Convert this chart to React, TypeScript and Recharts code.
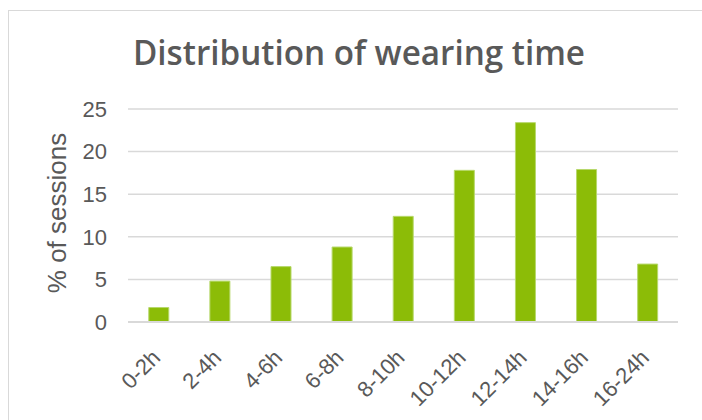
import { BarChart, Bar, XAxis, YAxis, CartesianGrid, Label } from 'recharts';

const CATEGORIES: string[] = ['0-2h', '2-4h', '4-6h', '6-8h', '8-10h', '10-12h', '12-14h', '14-16h', '16-24h'];
const SESSIONS: number[] = [1.7, 4.8, 6.5, 8.8, 12.4, 17.8, 23.4, 17.9, 6.8];
const Y_TICKS: number[] = [0, 5, 10, 15, 20, 25];

const GREY = '#595959';
const GRID = '#d9d9d9';
const BAR_FILL = '#8cbc07';
const BAR_EDGE = '#b7d86c';
const SANS = '"Liberation Sans", Arial, sans-serif';

const data = CATEGORIES.map((cat, i) => ({ cat, value: SESSIONS[i] }));

// rotated category labels, anchored at their end like excel does
function XTick({ x, y, payload }: any) {
    return (
        <g transform={`translate(${x + 3},${y + 29})`}>
            <text
                x={0}
                y={0}
                textAnchor="end"
                transform="rotate(-45)"
                fill={GREY}
                fontSize={22}
                fontFamily={SANS}
            >
                {payload.value}
            </text>
        </g>
    );
}

export default function App() {
    return (
        <div style={{ position: 'absolute', left: 0, top: 0, width: 702, height: 420, background: '#fff', overflow: 'hidden' }}>
            <div style={{ position: 'absolute', left: 8, top: 10, width: 720, height: 440, border: `1px solid ${GRID}` }} />
            <BarChart
                width={702}
                height={420}
                data={data}
                margin={{ top: 109, right: 24, bottom: 0, left: 0 }}
                barCategoryGap="34%"
                style={{ position: 'absolute', left: 0, top: 0 }}
            >
                <text
                    x={359}
                    y={65}
                    textAnchor="middle"
                    fill={GREY}
                    fontSize={35}
                    fontWeight={600}
                    fontFamily='"Open Sans", "Noto Sans", sans-serif'
                    textLength={452}
                    lengthAdjust="spacingAndGlyphs"
                >
                    Distribution of wearing time
                </text>
                <CartesianGrid vertical={false} stroke={GRID} strokeWidth={1.5} />
                <XAxis
                    dataKey="cat"
                    height={98}
                    interval={0}
                    tickLine={false}
                    axisLine={{ stroke: GRID, strokeWidth: 2 }}
                    tick={<XTick />}
                />
                <YAxis
                    width={128}
                    domain={[0, 25]}
                    ticks={Y_TICKS}
                    axisLine={false}
                    tickLine={false}
                    tickSize={0}
                    tickMargin={21}
                    tick={{ fill: GREY, fontSize: 22, fontFamily: SANS }}
                >
                    <Label
                        content={() => (
                            <text
                                x={0}
                                y={0}
                                transform="translate(66,213) rotate(-90)"
                                textAnchor="middle"
                                fill={GREY}
                                fontSize={26}
                                fontFamily={SANS}
                            >
                                % of sessions
                            </text>
                        )}
                    />
                </YAxis>
                <Bar dataKey="value" fill={BAR_FILL} stroke={BAR_EDGE} strokeWidth={1} isAnimationActive={false} />
            </BarChart>
        </div>
    );
}
